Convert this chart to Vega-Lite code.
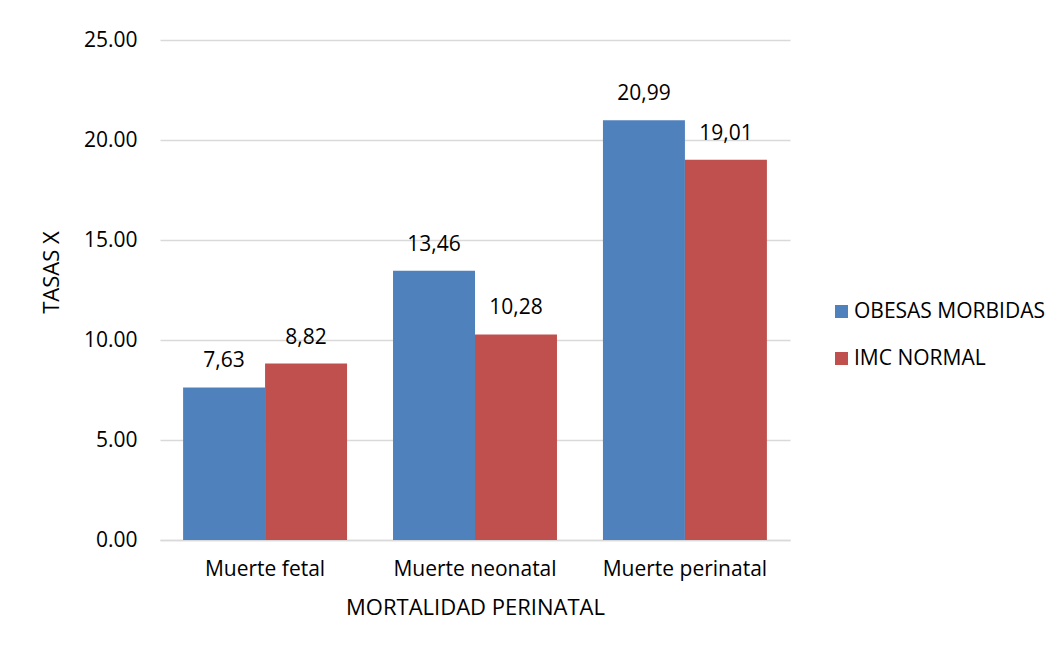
{
  "$schema": "https://vega.github.io/schema/vega-lite/v6.json",
  "width": 630,
  "height": 500,
  "autosize": {"type": "none"},
  "padding": {"left": 160, "top": 40, "right": 269, "bottom": 113},
  "background": "white",
  "config": {
    "font": "Open Sans",
    "view": {"stroke": null},
    "axis": {"labelFont": "Open Sans", "titleFont": "Open Sans", "labelColor": "#000000", "titleColor": "#000000", "titleFontWeight": "normal"}
  },
  "data": {
    "values": [
      {"categoria": "Muerte fetal", "grupo": "OBESAS MORBIDAS", "tasa": 7.63},
      {"categoria": "Muerte fetal", "grupo": "IMC NORMAL", "tasa": 8.82},
      {"categoria": "Muerte neonatal", "grupo": "OBESAS MORBIDAS", "tasa": 13.46},
      {"categoria": "Muerte neonatal", "grupo": "IMC NORMAL", "tasa": 10.28},
      {"categoria": "Muerte perinatal", "grupo": "OBESAS MORBIDAS", "tasa": 20.99},
      {"categoria": "Muerte perinatal", "grupo": "IMC NORMAL", "tasa": 19.01}
    ]
  },
  "encoding": {
    "x": {
      "field": "categoria", "type": "nominal", "sort": null,
      "scale": {"paddingInner": 0.219, "paddingOuter": 0.11},
      "axis": {
        "title": "MORTALIDAD PERINATAL", "labelAngle": 0, "labelFontSize": 21, "titleFontSize": 22,
        "domain": true, "domainColor": "#d9d9d9", "domainWidth": 1.5, "ticks": false,
        "labelPadding": 18, "titlePadding": 18
      }
    },
    "xOffset": {"field": "grupo", "type": "nominal", "sort": ["OBESAS MORBIDAS", "IMC NORMAL"]},
    "y": {
      "field": "tasa", "type": "quantitative",
      "scale": {"domain": [0, 25]},
      "axis": {
        "title": "TASAS X", "values": [0, 5, 10, 15, 20, 25], "format": ".2f",
        "labelFontSize": 21, "titleFontSize": 22, "domain": false, "ticks": false,
        "labelPadding": 23, "gridColor": "#d9d9d9", "gridWidth": 1.5,
        "titleX": -109, "titleY": 232, "titleAngle": -90, "titleAlign": "center", "titleBaseline": "middle"
      }
    }
  },
  "layer": [
    {
      "mark": {"type": "bar"},
      "encoding": {
        "color": {
          "field": "grupo", "type": "nominal",
          "scale": {"domain": ["OBESAS MORBIDAS", "IMC NORMAL"], "range": ["#4f81bd", "#c0504d"]},
          "legend": {
            "title": null, "orient": "none", "legendX": 671, "legendY": 261,
            "symbolType": "square", "symbolSize": 169, "symbolStrokeWidth": 0,
            "labelFontSize": 21, "labelFont": "Open Sans", "labelColor": "#000000", "labelLimit": 400,
            "labelOffset": 2, "rowPadding": 25, "padding": 0
          }
        }
      }
    },
    {
      "mark": {
        "type": "text", "baseline": "middle", "dy": -26, "fontSize": 21, "color": "#000000",
        "text": {"expr": "replace(format(datum.tasa, '.2f'), '.', ',')"}
      },
      "encoding": {}
    }
  ]
}
